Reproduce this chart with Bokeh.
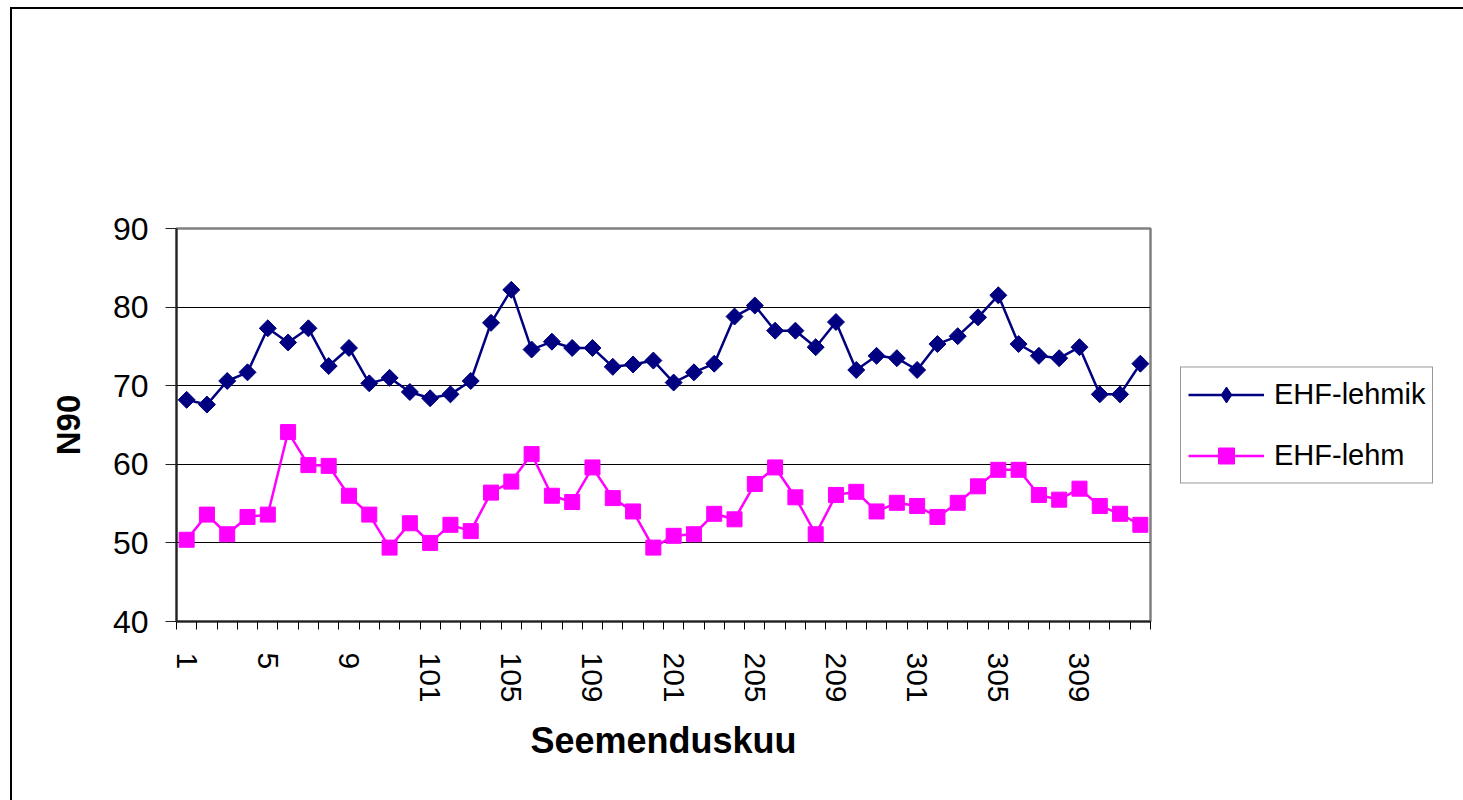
import math
from bokeh.plotting import figure
from bokeh.models import (ColumnDataSource, FixedTicker, Legend, LegendItem, Range1d)
from bokeh.embed import file_html
from bokeh.resources import INLINE

categories = ["1", "2", "3", "4", "5", "6", "7", "8", "9", "10", "11", "12",
              "101", "102", "103", "104", "105", "106", "107", "108", "109", "110", "111", "112",
              "201", "202", "203", "204", "205", "206", "207", "208", "209", "210", "211", "212",
              "301", "302", "303", "304", "305", "306", "307", "308", "309", "310", "311", "312"]

lehmik = [68.2, 67.6, 70.6, 71.7, 77.3, 75.5, 77.3, 72.5, 74.8, 70.3, 71.0, 69.2,
          68.4, 68.9, 70.6, 78.0, 82.2, 74.6, 75.6, 74.8, 74.8, 72.4, 72.7, 73.2,
          70.4, 71.7, 72.8, 78.8, 80.2, 77.0, 77.0, 74.9, 78.1, 72.0, 73.8, 73.5,
          72.0, 75.3, 76.3, 78.7, 81.5, 75.3, 73.8, 73.5, 74.9, 68.9, 68.9, 72.8]

lehm = [50.4, 53.6, 51.1, 53.3, 53.6, 64.1, 59.9, 59.8, 56.0, 53.6, 49.4, 52.5,
        50.0, 52.3, 51.5, 56.4, 57.8, 61.3, 56.0, 55.2, 59.6, 55.7, 54.0, 49.4,
        50.9, 51.1, 53.7, 53.0, 57.5, 59.6, 55.8, 51.1, 56.1, 56.5, 54.0, 55.1,
        54.7, 53.3, 55.1, 57.2, 59.3, 59.3, 56.1, 55.5, 56.9, 54.7, 53.7, 52.3]

tick_labels = ["1", "5", "9", "101", "105", "109", "201", "205", "209", "301", "305", "309"]
y_ticks = [40, 50, 60, 70, 80, 90]
series_names = ["EHF-lehmik", "EHF-lehm"]

FONT = "Liberation Sans"
n = len(categories)
xpos = [i + 0.5 for i in range(n)]
src = ColumnDataSource(dict(cat=categories, x=xpos, lehmik=lehmik, lehm=lehm))

p = figure(frame_width=974, frame_height=393, x_range=Range1d(0, n), y_range=Range1d(40, 90),
           output_backend="svg", toolbar_location=None,
           min_border_left=164, min_border_right=0, min_border_top=219, min_border_bottom=179,
           background_fill_color="white", border_fill_color="white")
p.styles = {"border-left": "2px solid black", "border-top": "2px solid black",
            "margin-left": "10px", "margin-top": "7px"}

p.outline_line_color = "#808080"
p.outline_line_width = 2.5

# x axis
p.xaxis.ticker = FixedTicker(ticks=[categories.index(t) + 0.5 for t in tick_labels],
                             minor_ticks=list(range(n + 1)))
p.xaxis.major_label_overrides = {categories.index(t) + 0.5: t for t in tick_labels}
p.xaxis.major_tick_line_color = None
p.xaxis.major_tick_out = 8
p.xaxis.major_tick_in = 0
p.xaxis.minor_tick_out = 8
p.xaxis.minor_tick_in = 0
p.xaxis.minor_tick_line_color = "black"
p.xaxis.minor_tick_line_width = 1
p.xaxis.axis_line_color = "#222222"
p.xaxis.axis_line_width = 2
p.xaxis.major_label_orientation = "vertical"
p.xaxis.major_label_standoff = 23
p.xaxis.major_label_text_font = FONT
p.xaxis.major_label_text_font_size = "30px"
p.xaxis.major_label_text_color = "black"
p.xaxis.axis_label = "Seemenduskuu"
p.xaxis.axis_label_text_font = FONT
p.xaxis.axis_label_text_font_size = "36px"
p.xaxis.axis_label_text_font_style = "bold"
p.xaxis.axis_label_text_color = "black"
p.xaxis.axis_label_standoff = 14

# y axis
p.yaxis.ticker = FixedTicker(ticks=y_ticks)
p.yaxis.major_tick_out = 11
p.yaxis.major_tick_in = 0
p.yaxis.major_tick_line_color = "#222222"
p.yaxis.minor_tick_line_color = None
p.yaxis.axis_line_color = "#222222"
p.yaxis.axis_line_width = 2
p.yaxis.major_label_standoff = 17
p.yaxis.major_label_text_font = FONT
p.yaxis.major_label_text_font_size = "32px"
p.yaxis.major_label_text_color = "black"
p.yaxis.axis_label = "N90"
p.yaxis.axis_label_text_font = FONT
p.yaxis.axis_label_text_font_size = "33px"
p.yaxis.axis_label_text_font_style = "bold"
p.yaxis.axis_label_text_color = "black"
p.yaxis.axis_label_standoff = 23

p.xgrid.visible = False
p.ygrid.ticker = FixedTicker(ticks=[50, 60, 70, 80])
p.ygrid.grid_line_color = "black"
p.ygrid.grid_line_width = 1

navy = "#000080"
magenta = "#FF00FF"
l1 = p.line("x", "lehmik", source=src, line_color=navy, line_width=2.5)
# diamond marker (hidden under the rotated squares) gives the legend its diamond glyph
d1 = p.scatter("x", "lehmik", source=src, marker="diamond", size=15,
               fill_color=navy, line_color=navy)
m1 = p.scatter("x", "lehmik", source=src, marker="square", angle=math.pi / 4, size=12,
               fill_color=navy, line_color=navy)
l2 = p.line("x", "lehm", source=src, line_color=magenta, line_width=2.5)
m2 = p.scatter("x", "lehm", source=src, marker="square", size=15,
               fill_color=magenta, line_color=magenta)

legend = Legend(items=[LegendItem(label=series_names[0], renderers=[l1, d1]),
                       LegendItem(label=series_names[1], renderers=[l2, m2])],
                location="center_left", orientation="vertical")
legend.border_line_color = "#333333"
legend.border_line_width = 1
legend.background_fill_color = "white"
legend.background_fill_alpha = 1
legend.label_text_font = FONT
legend.label_text_font_size = "29px"
legend.label_text_color = "black"
legend.glyph_width = 76
legend.glyph_height = 40
legend.label_height = 40
legend.spacing = 21
legend.padding = 7
legend.margin = 30
legend.label_standoff = 10
p.add_layout(legend, "right")

open("out.html", "w").write(file_html(p, INLINE))
